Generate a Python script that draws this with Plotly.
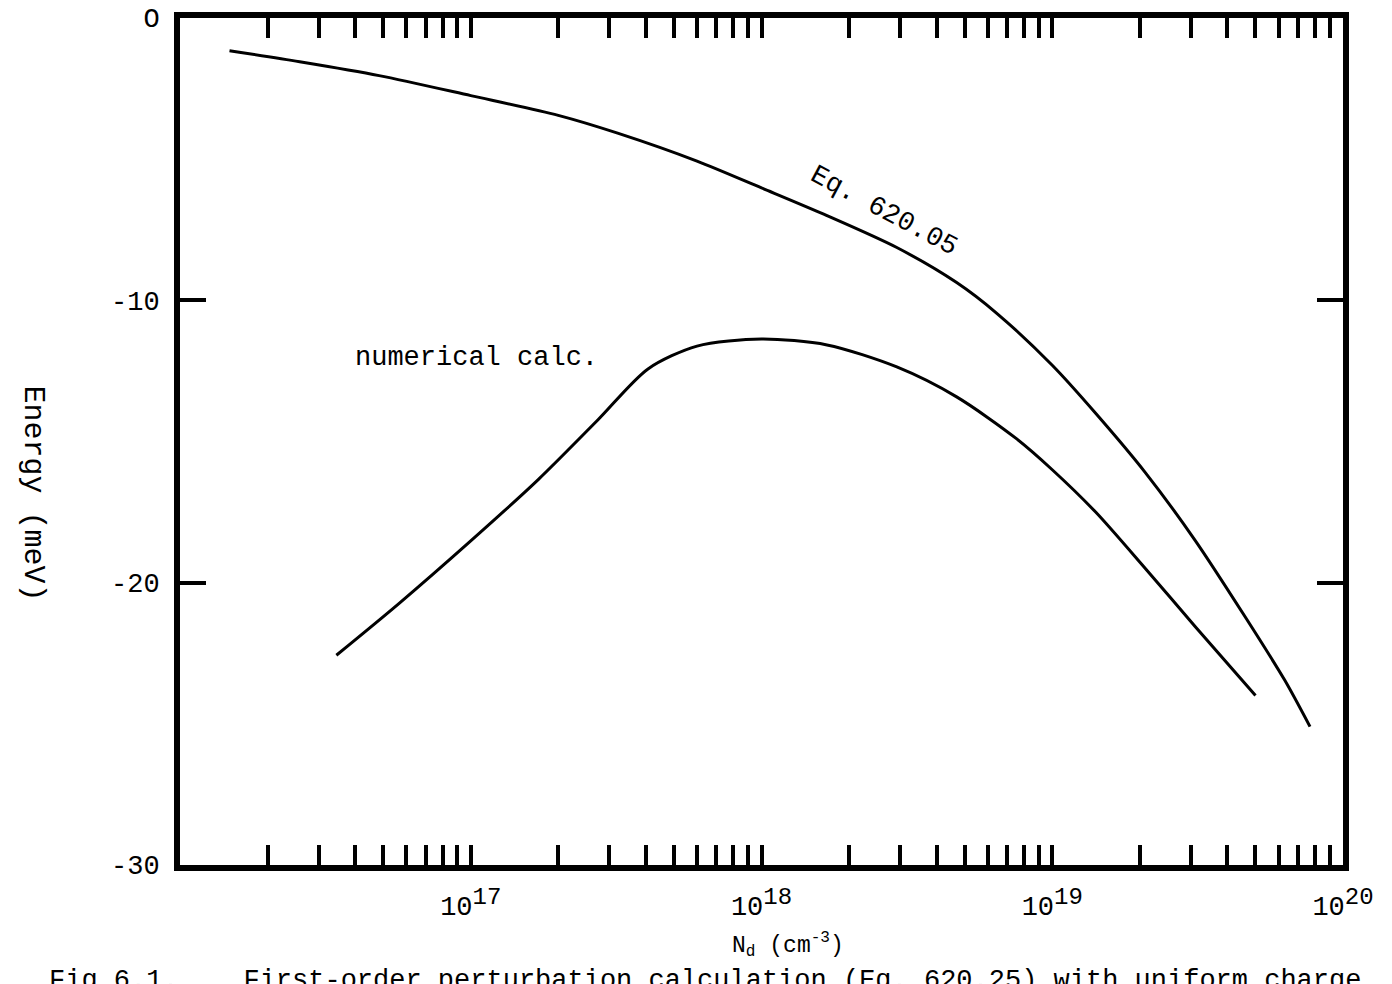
import plotly.graph_objects as go

# Upper curve: Eq. 620.05
eq_nd = [1.48e16, 2.58e16, 4.84e16, 1.0e17, 2.0e17, 3.2e17, 6.0e17, 1.0e18, 1.68e18,
         2.92e18, 4.69e18, 6.43e18, 1.0e19, 1.41e19, 2.09e19, 3.1e19, 4.6e19, 6.3e19, 7.7e19]
eq_e = [-1.16, -1.55, -2.04, -2.75, -3.45, -4.08, -5.07, -6.02, -7.0,
        -8.13, -9.37, -10.45, -12.3, -14.0, -16.1, -18.5, -21.2, -23.45, -25.1]

# Lower curve: numerical calculation
num_nd = [3.45e16, 5.66e16, 1.0e17, 1.71e17, 2.74e17, 4.07e17, 6.0e17, 1.0e18, 1.68e18,
          2.92e18, 4.69e18, 7.53e18, 1.0e19, 1.41e19, 2.09e19, 3.1e19, 5.0e19]
num_e = [-22.57, -20.74, -18.52, -16.34, -14.23, -12.43, -11.62, -11.37, -11.58,
         -12.36, -13.42, -14.9, -16.0, -17.5, -19.5, -21.55, -24.0]

y_ticks = [0, -10, -20, -30]
y_tick_labels = ["O", "-10", "-20", "-30"]
decades = [16, 17, 18, 19]
exponents = {17: "17", 18: "18", 19: "19", 20: "20"}

FONT = "Liberation Mono, Courier New, monospace"
FS = 27


def power_label(e):
    return "10<sup><span style='font-size:%dpx'>%s</span></sup>" % (FS - 3, exponents[e])


x_tickvals, x_ticktext = [], []
for d in decades:
    for m in range(1, 10):
        x_tickvals.append(m * 10.0 ** d)
        x_ticktext.append(power_label(d) if (m == 1 and d in exponents) else "")
x_tickvals.append(1e20)
x_ticktext.append(power_label(20))

fig = go.Figure()
fig.add_trace(go.Scatter(x=eq_nd, y=eq_e, mode="lines",
                         line=dict(color="black", width=3, shape="spline", smoothing=0.8),
                         showlegend=False, hoverinfo="skip"))
fig.add_trace(go.Scatter(x=num_nd, y=num_e, mode="lines",
                         line=dict(color="black", width=3, shape="spline", smoothing=0.8),
                         showlegend=False, hoverinfo="skip"))

fig.update_layout(
    width=1392, height=984,
    margin=dict(l=172, r=57, t=10, b=127),
    paper_bgcolor="white", plot_bgcolor="white",
    font=dict(family=FONT, size=FS, color="black"),
    xaxis=dict(type="log", range=[16, 20], showgrid=False, zeroline=False, automargin=False,
               showline=True, linewidth=6, linecolor="black", mirror="ticks",
               ticks="inside", ticklen=20, tickwidth=3.5, tickcolor="black",
               tickmode="array", tickvals=x_tickvals, ticktext=x_ticktext,
               tickfont=dict(family=FONT, size=FS), ticklabelstandoff=12,
               ticklabeloverflow="allow"),
    yaxis=dict(range=[-30, 0], showgrid=False, zeroline=False, automargin=False,
               showline=True, linewidth=6, linecolor="black", mirror="ticks",
               ticks="inside", ticklen=26, tickwidth=3.5, tickcolor="black",
               tickmode="array", tickvals=y_ticks, ticktext=y_tick_labels,
               tickfont=dict(family=FONT, size=FS), ticklabelstandoff=9,
               ticklabeloverflow="allow"),
    annotations=[
        dict(text="numerical calc.", x=16.596, y=-12.04, xref="x", yref="y",
             xanchor="left", yanchor="middle", showarrow=False, font=dict(family=FONT, size=FS)),
        dict(text="Eq. 620.05", x=18.42, y=-6.83, xref="x", yref="y", textangle=28,
             xanchor="center", yanchor="middle", showarrow=False, font=dict(family=FONT, size=FS)),
        dict(text="Energy (meV)", x=-0.1267, y=0.439, xref="paper", yref="paper", textangle=90,
             xanchor="center", yanchor="middle", showarrow=False, font=dict(family=FONT, size=30)),
        dict(text="N<sub>d</sub> (cm<sup>-3</sup>)", x=0.523, y=-0.094, xref="paper", yref="paper",
             xanchor="center", yanchor="middle", showarrow=False, font=dict(family=FONT, size=23)),
        dict(text="Fig 6.1.    First-order perturbation calculation (Eq. 620.25) with uniform charge",
             x=-0.114, y=-0.137, xref="paper", yref="paper",
             xanchor="left", yanchor="middle", showarrow=False, font=dict(family=FONT, size=FS)),
    ],
)

fig.write_html("out.html")
